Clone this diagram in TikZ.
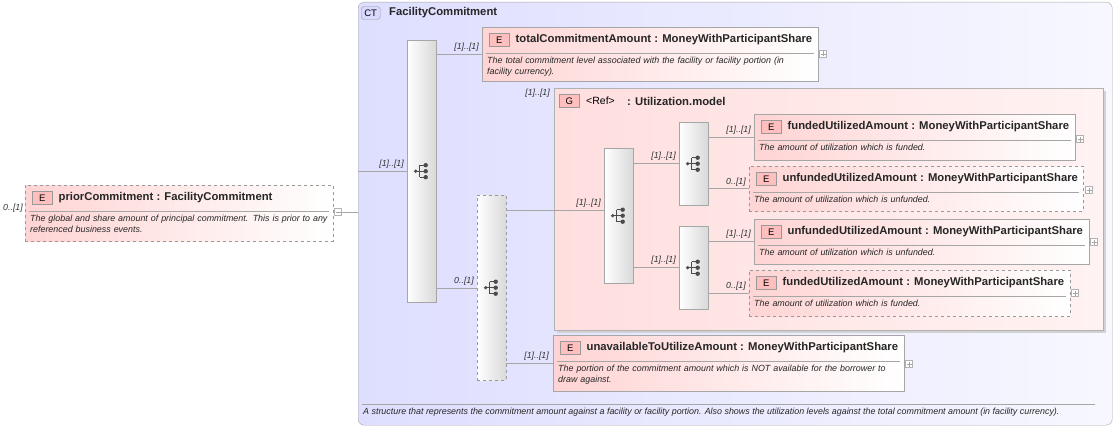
\documentclass[tikz,border=0pt]{standalone}
\usepackage{fontspec}
\setmainfont{Liberation Sans}
\usetikzlibrary{calc,shadows}
\definecolor{lbl}{HTML}{333333}
\newcommand\nohyph{\hyphenpenalty=10000\relax\exhyphenpenalty=10000\relax}
\tikzset{
 x=1pt,y=-1pt,
 elem/.style={draw=gray!70,left color=red!17,right color=white,inner sep=0pt},
 dashedbox/.style={dashed,draw=gray!80},
 ebadge/.style={draw=gray!80,fill=red!25,font=\fontsize{9.5}{10}\selectfont,minimum width=20pt,minimum height=13pt,inner sep=0pt},
 etitle/.style={font=\bfseries\fontsize{11.3}{13}\selectfont,inner sep=0pt,text=black!85},
 edesc/.style={font=\itshape\fontsize{8.9}{10.4}\selectfont\nohyph,inner sep=0pt,align=left,text=black!85},
 card/.style={font=\itshape\fontsize{8.8}{10}\selectfont,inner sep=1pt,text=lbl},
 seqbox/.style={draw=gray!70,left color=white,right color=gray!30,inner sep=0pt,minimum width=29pt},
 conn/.style={draw=gray!70,line width=.6pt},
 pbox/.style={draw=gray!60,fill=white,minimum size=7pt,inner sep=0pt},
 seqicon/.pic={
  \draw[black!70,line width=.9pt] (-6,0) -- (-2,0) (-2,-6) -- (-2,6) (-2,-6) -- (4,-6) (-2,0) -- (4,0) (-2,6) -- (4,6);
  \fill[black!70] (-6,0) circle (1.8);
  \fill[black!70] (4,-6) circle (2.2) (4,0) circle (2.2) (4,6) circle (2.2);
 }
}
\newcommand\plusbox[2]{\node[pbox] at (#1,#2) {}; \draw[gray!70] (#1-2.5,#2) -- (#1+2.5,#2) (#1,#2-2.5) -- (#1,#2+2.5);}
% name, x, y, w, h, extra style, title, desc, text width
\newcommand\elbox[9]{%
 \node[elem,#6,minimum width=#4pt,minimum height=#5pt,anchor=north west] (#1) at (#2,#3) {};
 \node[ebadge,anchor=west] (#1b) at ($(#1.north west)+(7,13)$) {E};
 \node[etitle,anchor=west] at ($(#1b.east)+(6,0)$) {#7};
 \draw[gray!70] ($(#1.north west)+(4,26)$) -- ($(#1.north east)+(-4,26)$);
 \node[edesc,anchor=north west,text width=#9pt] at ($(#1.north west)+(5,30)$) {#8};}
\begin{document}
\begin{tikzpicture}
\useasboundingbox (0,0) rectangle (1117,428);
% CT
\node[draw=gray!70,rounded corners=6pt,left color=blue!13,right color=blue!3,minimum width=754pt,minimum height=423pt,anchor=north west,inner sep=0pt] (ct) at (358,2) {};
\node[draw=gray!80,fill=blue!15,rounded corners=3pt,font=\fontsize{9.5}{10}\selectfont,minimum width=19pt,minimum height=13pt,inner sep=0pt,anchor=west] (ctb) at (361,13) {CT};
\node[etitle,anchor=west] (cttitle) at (389,13) {FacilityCommitment};
\draw[gray!70] (362,404) -- (1095,404);
\node[edesc,anchor=west] (ctdesc) at (363,412) {A structure that represents the commitment amount against a facility or facility portion. Also shows the utilization levels against the total commitment amount (in facility currency).};
% prior
\elbox{prior}{25}{185}{308}{56}{dashedbox}{priorCommitment : FacilityCommitment}{The global and share amount of principal commitment. This is prior to any referenced business events.}{300}
\node[card,anchor=east] (pc) at (24,208) {0..[1]};
\node[pbox] (pm) at (338,212) {};
\draw[gray!70] (335.5,212) -- (340.5,212);
\draw[conn] (pm.east) -- (ct.west |- pm.east);
% seq1
\node[seqbox,minimum height=262pt,anchor=north west] (s1) at (407,40) {};
\pic at (s1.center) {seqicon};
\draw[conn] (ct.west |- 0,171) coordinate (c1) -- (s1.west |- c1);
\node[card,anchor=south east] at (405,170) {[1]..[1]};
% total
\elbox{tot}{482}{27}{336}{54}{}{totalCommitmentAmount : MoneyWithParticipantShare}{The total commitment level associated with the facility or facility portion (in facility currency).}{322}
\plusbox{823}{54}
\draw[conn] (s1.east |- tot.west) -- (tot.west);
\node[card,anchor=south east] at (480,53) {[1]..[1]};
% seq2
\node[seqbox,dashedbox,minimum height=185pt,anchor=north west] (s2) at (477,195) {};
\pic at (s2.center) {seqicon};
\draw[conn] (s1.east |- 0,288) coordinate (c2) -- (s2.west |- c2);
\node[card,anchor=south east] at (475,287) {0..[1]};
% group
\node[draw=gray!60,left color=red!13,right color=red!5,minimum width=549pt,minimum height=242pt,anchor=north west,inner sep=0pt,drop shadow={shadow xshift=3pt,shadow yshift=-3pt,fill=gray!35,opacity=1}] (grp) at (554,88) {};
\node[ebadge,anchor=west] (gb) at (559,101) {G};
\node[font=\fontsize{10.5}{12}\selectfont,anchor=west,inner sep=0pt] (gref) at (586,101) {<Ref>};
\node[etitle,anchor=west] (gname) at (627,101) {: Utilization.model};
\draw[conn] (s2.east |- 0,210) coordinate (c3) -- (grp.west |- c3);
\node[card,anchor=south east] at (551,99) {[1]..[1]};
% seq3
\node[seqbox,minimum height=135pt,anchor=north west] (s3) at (604,148) {};
\pic at (s3.center) {seqicon};
\draw[conn] (grp.west |- c3) -- (s3.west |- c3);
\node[card,anchor=south east] at (602,209) {[1]..[1]};
\node[seqbox,minimum height=83pt,anchor=north west] (s4) at (679,122) {};
\pic at (s4.center) {seqicon};
\node[seqbox,minimum height=83pt,anchor=north west] (s5) at (679,226) {};
\pic at (s5.center) {seqicon};
\draw[conn] (s3.east |- 0,163) coordinate (c4) -- (s4.west |- c4);
\node[card,anchor=south east] at (677,162) {[1]..[1]};
\draw[conn] (s3.east |- 0,267) coordinate (c5) -- (s5.west |- c5);
\node[card,anchor=south east] at (677,266) {[1]..[1]};
% leaves
\elbox{fa}{754}{114}{321}{46}{}{fundedUtilizedAmount : MoneyWithParticipantShare}{The amount of utilization which is funded.}{300}
\plusbox{1080}{139}
\draw[conn] (s4.east |- fa.west) -- (fa.west);
\node[card,anchor=south east] at (752,136) {[1]..[1]};
\elbox{ua}{749}{166}{334}{45}{dashedbox}{unfundedUtilizedAmount : MoneyWithParticipantShare}{The amount of utilization which is unfunded.}{300}
\plusbox{1089}{190}
\draw[conn] (s4.east |- ua.west) -- (ua.west);
\node[card,anchor=south east] at (747,188) {0..[1]};
\elbox{ub}{754}{219}{335}{45}{}{unfundedUtilizedAmount : MoneyWithParticipantShare}{The amount of utilization which is unfunded.}{300}
\plusbox{1094}{242}
\draw[conn] (s5.east |- ub.west) -- (ub.west);
\node[card,anchor=south east] at (752,240) {[1]..[1]};
\elbox{fb}{749}{270}{321}{46}{dashedbox}{fundedUtilizedAmount : MoneyWithParticipantShare}{The amount of utilization which is funded.}{300}
\plusbox{1075}{293}
\draw[conn] (s5.east |- fb.west) -- (fb.west);
\node[card,anchor=south east] at (747,292) {0..[1]};
% unavailable
\elbox{un}{553}{335}{351}{56}{}{unavailableToUtilizeAmount : MoneyWithParticipantShare}{The portion of the commitment amount which is NOT available for the borrower to draw against.}{335}
\plusbox{909}{364}
\draw[conn] (s2.east |- un.west) -- (un.west);
\node[card,anchor=south east] at (550,362) {[1]..[1]};
\end{tikzpicture}
\end{document}
